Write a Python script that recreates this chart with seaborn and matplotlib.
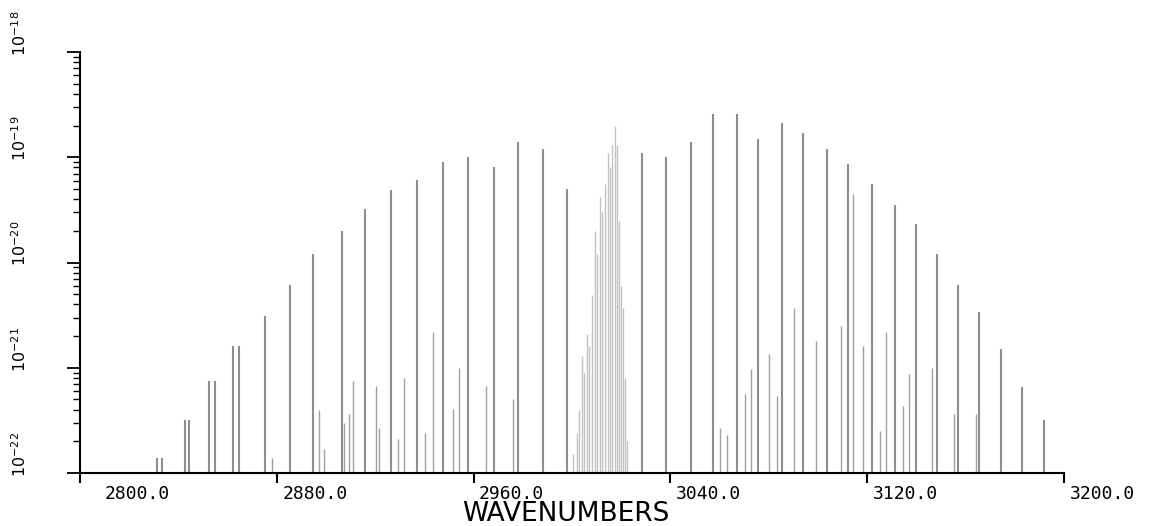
import numpy as np
import pandas as pd
import matplotlib
matplotlib.use("Agg")
import matplotlib.pyplot as plt
import matplotlib.transforms as mtransforms
from matplotlib.ticker import NullFormatter, FixedLocator, FixedFormatter, LogLocator
import seaborn as sns

# Strong branch lines: wavenumber (cm-1) and line strength
main_wn = [2831.3, 2833.3, 2842.7, 2844.3, 2852.4, 2854.9, 2862.2, 2864.6,
           2875.2, 2885.4, 2894.7, 2906.5, 2915.9, 2926.4, 2937.0, 2947.6,
           2957.7, 2968.3, 2978.0, 2988.2, 2998.0,
           3028.5, 3038.2, 3048.4, 3057.3, 3067.1, 3075.6, 3085.4, 3093.9,
           3103.7, 3112.2, 3122.0, 3131.3, 3139.8, 3148.4, 3156.9, 3165.4,
           3174.4, 3182.9, 3191.9]
main_s = [1.4e-22, 1.4e-22, 3.2e-22, 3.2e-22, 7.5e-22, 7.5e-22, 1.6e-21, 1.6e-21,
          3.1e-21, 6.1e-21, 1.2e-20, 2.0e-20, 3.2e-20, 4.9e-20, 6.1e-20, 9.1e-20,
          1.0e-19, 8.1e-20, 1.4e-19, 1.2e-19, 5.0e-20,
          1.1e-19, 1.0e-19, 1.4e-19, 2.6e-19, 2.6e-19, 1.5e-19, 2.1e-19, 1.7e-19,
          1.2e-19, 8.7e-20, 5.6e-20, 3.5e-20, 2.3e-20, 1.2e-20, 6.1e-21, 3.4e-21,
          1.5e-21, 6.6e-22, 3.2e-22]

# Q-branch manifold
q_wn = [3000.5, 3002.0, 3002.8, 3004.1, 3005.0, 3006.1, 3007.0, 3008.1,
        3009.3, 3010.2, 3011.4, 3012.2, 3013.4, 3014.6, 3015.5, 3016.3,
        3017.5, 3018.3, 3019.2, 3019.8, 3020.7, 3021.5, 3022.5]
q_s = [1.5e-22, 2.4e-22, 4.0e-22, 1.3e-21, 9.0e-22, 2.1e-21, 1.6e-21, 4.9e-21,
       2.0e-20, 1.2e-20, 4.2e-20, 3.0e-20, 5.6e-20, 1.1e-19, 8.0e-20, 1.3e-19,
       2.0e-19, 1.3e-19, 2.5e-20, 6.0e-21, 3.7e-21, 8.0e-22, 2.0e-22]

# Weaker satellite lines
weak_wn = [2878.0, 2897.2, 2899.2, 2907.3, 2909.3, 2911.0, 2920.3, 2921.5,
           2929.3, 2931.7, 2940.2, 2943.5, 2951.6, 2954.1, 2965.0, 2976.0,
           3060.2, 3063.0, 3070.3, 3072.8, 3080.1, 3083.3, 3090.2, 3099.2,
           3109.3, 3114.2, 3118.3, 3125.2, 3127.6, 3134.6, 3137.0, 3146.3,
           3155.3, 3164.2]
weak_s = [1.4e-22, 4.0e-22, 1.7e-22, 3.0e-22, 3.6e-22, 7.5e-22, 6.7e-22, 2.7e-22,
          2.1e-22, 8.0e-22, 2.4e-22, 2.2e-21, 4.1e-22, 1.0e-21, 6.7e-22, 5.0e-22,
          2.7e-22, 2.3e-22, 5.6e-22, 9.8e-22, 1.35e-21, 5.4e-22, 3.7e-21, 1.8e-21,
          2.5e-21, 4.5e-20, 1.6e-21, 2.5e-22, 2.2e-21, 4.3e-22, 8.7e-22, 1.0e-21,
          3.6e-22, 3.6e-22]

x_ticks = [2800, 2880, 2960, 3040, 3120, 3200]
x_tick_labels = ["2800.0", "2880.0", "2960.0", "3040.0", "3120.0", "3200.0"]
y_ticks = [1e-22, 1e-21, 1e-20, 1e-19, 1e-18]
y_tick_labels = [r"$\mathregular{10^{-22}}$", r"$\mathregular{10^{-21}}$",
                 r"$\mathregular{10^{-20}}$", r"$\mathregular{10^{-19}}$",
                 r"$\mathregular{10^{-18}}$"]

lines = pd.concat([
    pd.DataFrame({"wn": main_wn, "s": main_s, "kind": "main"}),
    pd.DataFrame({"wn": q_wn, "s": q_s, "kind": "q"}),
    pd.DataFrame({"wn": weak_wn, "s": weak_s, "kind": "weak"}),
], ignore_index=True)

sns.set_style("ticks")
plt.rcParams["font.family"] = ["DejaVu Sans"]
plt.rcParams["mathtext.fontset"] = "dejavusans"

W, H = 1165, 526
fig = plt.figure(figsize=(W / 100, H / 100), dpi=100)
ax = fig.add_axes([80 / W, 53 / H, (1064 - 80) / W, (473 - 52) / H])

ymin = 1e-22
styles = {"main": dict(color="#8e8e8e", lw=1.5),
          "q": dict(color="#c2c2c2", lw=1.0),
          "weak": dict(color="#a0a0a0", lw=1.0)}
for kind, sub in lines.groupby("kind"):
    ax.vlines(sub["wn"], ymin, sub["s"], **styles[kind])

ax.set_yscale("log")
ax.set_xlim(2800, 3200)
ax.set_ylim(1e-22, 1e-18)

ax.yaxis.set_major_locator(FixedLocator(y_ticks))
ax.yaxis.set_major_formatter(FixedFormatter(y_tick_labels))
ax.yaxis.set_minor_locator(LogLocator(base=10, subs=np.arange(2, 10), numticks=50))
ax.yaxis.set_minor_formatter(NullFormatter())
ax.xaxis.set_major_locator(FixedLocator(x_ticks))
ax.xaxis.set_major_formatter(FixedFormatter(x_tick_labels))

sns.despine(ax=ax)
for side in ("left", "bottom"):
    ax.spines[side].set_linewidth(1.5)
    ax.spines[side].set_color("black")

ax.tick_params(axis="y", which="major", length=9.5, width=1.3, direction="out",
               pad=27, labelsize=11.5, colors="black")
ax.tick_params(axis="y", which="minor", length=5, width=1.0, direction="out",
               colors="black")
ax.tick_params(axis="x", which="major", length=7, width=1.5, direction="out",
               pad=1.5, labelsize=13, colors="black")

down = mtransforms.ScaledTranslation(0, -4 / 100, fig.dpi_scale_trans)
for lab in ax.get_yticklabels():
    lab.set_rotation(90)
    lab.set_va("bottom")
    lab.set_ha("right")
    lab.set_transform(lab.get_transform() + down)

for i, lab in enumerate(ax.get_xticklabels()):
    shift = 57 if i == 0 else 38
    lab.set_family("DejaVu Sans Mono")
    lab.set_transform(lab.get_transform()
                      + mtransforms.ScaledTranslation(shift / 100, 0, fig.dpi_scale_trans))

ax.set_xlabel("WAVENUMBERS", fontsize=19, color="black", va="center")
ax.xaxis.set_label_coords((566 - 80) / 984, (473 - 514) / 421)

fig.savefig("out.png", dpi=100, facecolor="white")
